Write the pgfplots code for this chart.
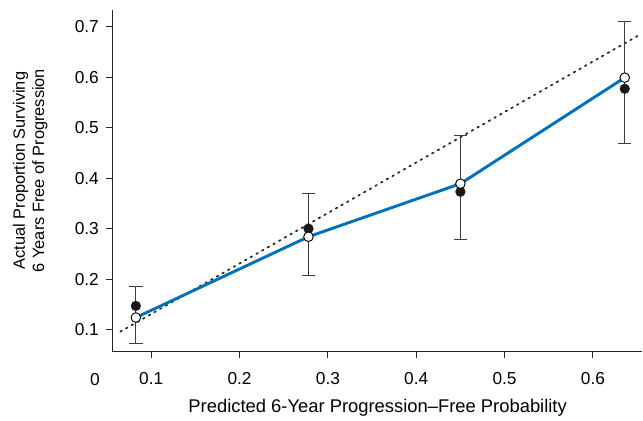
\documentclass[border=0pt]{standalone}
\usepackage{fontspec}
\setmainfont{Liberation Sans}
\usepackage{pgfplots}
\pgfplotsset{compat=1.18}
\definecolor{lineblue}{RGB}{0,114,188}
\definecolor{barcol}{RGB}{60,60,60}
\begin{document}
\begin{tikzpicture}
\begin{axis}[
  scale only axis, width=397.5pt, height=256.5pt,
  xmin=0.0566, xmax=0.656, ymin=0.0564, ymax=0.733,
  axis x line*=bottom, axis y line*=left,
  axis line style={line width=0.9pt, black!85},
  xtick={0.1,0.2,0.3,0.4,0.5,0.6},
  ytick={0.1,0.2,0.3,0.4,0.5,0.6,0.7},
  tick align=outside, major tick length=5pt,
  tick style={line width=0.8pt, black!85},
  font=\fontsize{13}{15.5}\selectfont,
  /pgf/number format/assume math mode=true,
  /pgf/number format/.cd, fixed, fixed zerofill, precision=1, /pgfplots/.cd,
  xticklabel style={yshift=-7pt},
  yticklabel style={xshift=-2pt},
  xlabel={Predicted 6-Year Progression--Free Probability},
  xlabel style={at={(axis description cs:0.5,0)}, anchor=center, yshift=-42pt, font=\fontsize{13.8}{16}\selectfont},
  ylabel={Actual Proportion Surviving\\6 Years Free of Progression},
  ylabel style={align=center, at={(axis description cs:-0.156,0.53)}, anchor=center, font=\fontsize{12.3}{14.5}\selectfont},
  clip=false,
]
% reference line (dotted)
\addplot[black!85, line width=1.3pt, dash pattern=on 1.3pt off 3.6pt, line cap=round] coordinates {(0.065,0.096) (0.655,0.686)};
% error bars
\addplot[draw=none, mark=none, barcol,
  error bars/.cd, y dir=both, y explicit,
  error bar style={line width=0.8pt, barcol},
  error mark options={rotate=90, mark size=5pt, line width=0.8pt, barcol}]
  coordinates {
  (0.0826,0.147) += (0,0.038) -= (0,0.075)
  (0.278,0.300) += (0,0.069) -= (0,0.093)
  (0.450,0.373) += (0,0.111) -= (0,0.095)
  (0.636,0.577) += (0,0.133) -= (0,0.109)
  };
% observed (filled)
\addplot[only marks, mark=*, mark size=3.6pt, mark options={fill=black!90, draw=black!90}]
  coordinates {(0.0826,0.147) (0.278,0.300) (0.450,0.373) (0.636,0.577)};
% predicted line
\addplot[lineblue, line width=2.2pt, mark=*, mark size=3.6pt, mark options={fill=white, draw=black, line width=0.7pt}]
  coordinates {(0.0826,0.124) (0.278,0.284) (0.450,0.389) (0.636,0.599)};
\node[anchor=center] at (axis description cs:0,0) [xshift=-13.5pt, yshift=-21pt] {0};
\end{axis}
\path[use as bounding box] (-84.75pt,-50.25pt) rectangle (397.5pt,264pt);
\end{tikzpicture}
\end{document}
